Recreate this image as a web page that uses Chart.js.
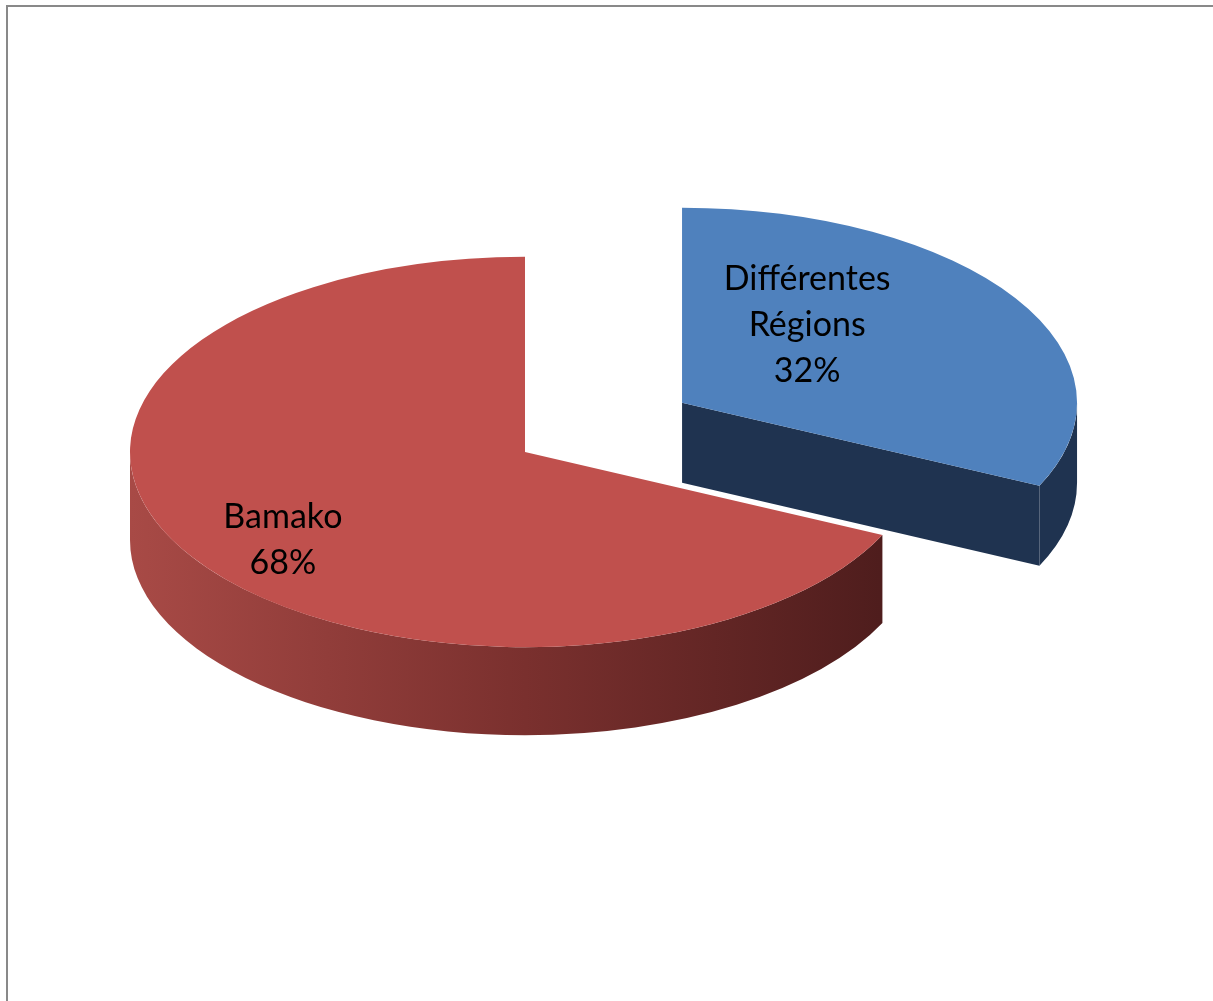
<!DOCTYPE html>
<html>
<head>
<meta charset="utf-8">
<title>Bamako / Différentes Régions</title>
<script src="https://cdn.jsdelivr.net/npm/chart.js@4/dist/chart.umd.min.js"></script>
<style>
    body { margin: 0; background: #fff; overflow: hidden; }
    #frame {
        position: absolute; left: 6px; top: 5px;
        width: 1400px; height: 1200px;
        border: 2px solid #898989;
    }
    #wrap { position: absolute; left: 0; top: 0; width: 1213px; height: 1001px; }
</style>
</head>
<body>
<div id="frame"></div>
<div id="wrap"><canvas id="myChart" width="1213" height="1001"></canvas></div>

<script>
// DATA
const labels = ['Différentes Régions', 'Bamako'];
const values = [32, 68];
const labelLines = [['Différentes', 'Régions'], ['Bamako']];

// colours of the top faces and of the sides
const topColors = ['#4F81BD', '#C0504D'];
const sideColors = ['#1F3350', null]; // null = red gradient

// 3D look
const tilt = 0.494;        // vertical squash of the disc
const depth = [80, 88];    // thickness in screen px (far slice looks thinner)
const explode = [186, 0];
const labelShift = [[-75, -15], [-42, 25]];

const total = values.reduce((a, b) => a + b, 0);

// move exploded slices out along their middle angle
let explodePlugin = {
    id: 'explode',
    afterDatasetsUpdate(chart) {
        chart.getDatasetMeta(0).data.forEach((arc, i) => {
            let e = explode[i] || 0;
            if (!e) return;
            let mid = (arc.startAngle + arc.endAngle) / 2;
            arc.x += Math.cos(mid) * e;
            arc.y += Math.sin(mid) * e;
        });
    }
};

let pie3d = {
    id: 'pie3d',
    beforeDatasetsDraw(chart) {
        const ctx = chart.ctx;
        const arcs = chart.getDatasetMeta(0).data;
        const cy = (chart.chartArea.top + chart.chartArea.bottom) / 2;

        ctx.save();
        ctx.translate(0, cy * (1 - tilt));
        ctx.scale(1, tilt);

        arcs.forEach((arc, i) => {
            let {x, y, startAngle, endAngle, outerRadius: r} = arc;
            let d = depth[i] / tilt;
            let fill = sideColors[i];
            if (!fill) {
                fill = ctx.createLinearGradient(x - r, 0, x + r, 0);
                fill.addColorStop(0, '#A84A46');
                fill.addColorStop(0.5, '#7A302E');
                fill.addColorStop(1, '#4A1B1B');
            }
            ctx.fillStyle = fill;

            // cut faces (only the ones turned to the viewer)
            if (Math.cos(endAngle) > 0) {
                let ex = x + Math.cos(endAngle) * r, ey = y + Math.sin(endAngle) * r;
                ctx.beginPath();
                ctx.moveTo(x, y);
                ctx.lineTo(ex, ey);
                ctx.lineTo(ex, ey + d);
                ctx.lineTo(x, y + d);
                ctx.closePath();
                ctx.fill();
            }
            if (Math.cos(startAngle) < 0) {
                let sx = x + Math.cos(startAngle) * r, sy = y + Math.sin(startAngle) * r;
                ctx.beginPath();
                ctx.moveTo(x, y);
                ctx.lineTo(sx, sy);
                ctx.lineTo(sx, sy + d);
                ctx.lineTo(x, y + d);
                ctx.closePath();
                ctx.fill();
            }

            // outer wall, front half only (angles 0..PI)
            for (let n = -1; n <= 1; n++) {
                let lo = Math.max(startAngle, 2 * Math.PI * n);
                let hi = Math.min(endAngle, Math.PI + 2 * Math.PI * n);
                if (hi <= lo) continue;
                ctx.beginPath();
                ctx.arc(x, y, r, lo, hi);
                ctx.arc(x, y + d, r, hi, lo, true);
                ctx.closePath();
                ctx.fill();
            }
        });
        // squash stays on for the top faces drawn by Chart.js
    },
    afterDatasetsDraw(chart) {
        const ctx = chart.ctx;
        ctx.restore();

        const cy = (chart.chartArea.top + chart.chartArea.bottom) / 2;
        const arcs = chart.getDatasetMeta(0).data;

        ctx.save();
        ctx.font = '34px Lato';
        ctx.fillStyle = '#000';
        ctx.textAlign = 'center';
        ctx.textBaseline = 'middle';
        arcs.forEach((arc, i) => {
            let mid = (arc.startAngle + arc.endAngle) / 2;
            let px = arc.x + Math.cos(mid) * arc.outerRadius * 0.6;
            let py = arc.y + Math.sin(mid) * arc.outerRadius * 0.6;
            px = px + labelShift[i][0];
            py = cy + (py - cy) * tilt + labelShift[i][1];

            let lines = labelLines[i].concat([Math.round(values[i] / total * 100) + '%']);
            let top = py - (lines.length - 1) * 46 / 2;
            lines.forEach((t, j) => ctx.fillText(t, px, top + j * 46));
        });
        ctx.restore();
    }
};

const data = {
    labels: labels,
    datasets: [{
        data: values,
        backgroundColor: topColors,
        borderWidth: 0,
        radius: 395,
        clip: false
    }]
};

const config = {
    type: 'pie',
    data: data,
    options: {
        responsive: false,
        animation: false,
        rotation: 0,
        layout: { padding: { left: 0, right: 163, top: 0, bottom: 97 } },
        plugins: {
            legend: { display: false },
            tooltip: { enabled: false }
        }
    },
    plugins: [explodePlugin, pie3d]
};

const myChart = new Chart(document.getElementById('myChart'), config);
</script>
</body>
</html>
